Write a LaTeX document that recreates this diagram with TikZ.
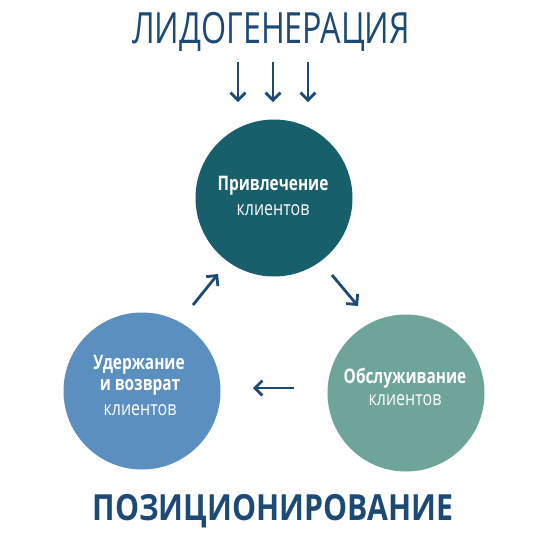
\documentclass[tikz,border=0pt]{standalone}
\usepackage{fontspec}
\setmainfont{Open Sans}
\usetikzlibrary{arrows.meta}
\definecolor{navy}{HTML}{1D4A74}
\definecolor{ctop}{HTML}{17606B}
\definecolor{cleft}{HTML}{5B8FBF}
\definecolor{cright}{HTML}{6FA49B}
\tikzset{
  circ/.style={circle, minimum size=157pt, inner sep=0pt},
  boldtxt/.style={text=white, xscale=0.77, font=\bfseries\fontsize{20}{24}\selectfont},
  regtxt/.style={text=white, xscale=0.8, font=\fontsize{20}{24}\selectfont},
  arr/.style={navy, line width=2.8pt, -{Straight Barb[length=7.5pt, width=15pt, line width=2.8pt]}},
  lbl/.style={text=navy, inner sep=0pt}
}
\begin{document}
\begin{tikzpicture}[x=1pt, y=-1pt]
\fill[white] (0,0) rectangle (541,547);
\useasboundingbox (0,0) rectangle (541,547);
\node[lbl, font=\fontsize{43}{43}\selectfont, xscale=0.75] (title) at (271,32) {ЛИДОГЕНЕРАЦИЯ};
\node[lbl, font=\bfseries\fontsize{36}{36}\selectfont, xscale=0.84] (bottom) at (273,511) {ПОЗИЦИОНИРОВАНИЕ};
\node[circ, fill=ctop] (top) at (274,198) {};
\node[circ, fill=cleft] (left) at (142,391) {};
\node[circ, fill=cright] (right) at (406,393) {};
\node[boldtxt] (t1) at (273,186) {Привлечение};
\node[regtxt] (t2) at (273,210) {клиентов};
\node[boldtxt] (l1) at (139,365) {Удержание};
\node[boldtxt] (l2) at (140,387) {и возврат};
\node[regtxt] (l3) at (140,410) {клиентов};
\node[boldtxt] (r1) at (405,378) {Обслуживание};
\node[regtxt] (r2) at (405,400) {клиентов};
\coordinate (a1s) at (238,62); \coordinate (a1e) at (238,102);
\coordinate (a2s) at (273,62); \coordinate (a2e) at (273,102);
\coordinate (a3s) at (308,62); \coordinate (a3e) at (308,102);
\draw[arr] (a1s) -- (a1e);
\draw[arr] (a2s) -- (a2e);
\draw[arr] (a3s) -- (a3e);
\coordinate (b1s) at (193,305); \coordinate (b1e) at (218,274);
\coordinate (b2s) at (332,275); \coordinate (b2e) at (358,306);
\coordinate (b3s) at (294,388); \coordinate (b3e) at (253,388);
\draw[arr] (b1s) -- (b1e);
\draw[arr] (b2s) -- (b2e);
\draw[arr] (b3s) -- (b3e);
\end{tikzpicture}
\end{document}
